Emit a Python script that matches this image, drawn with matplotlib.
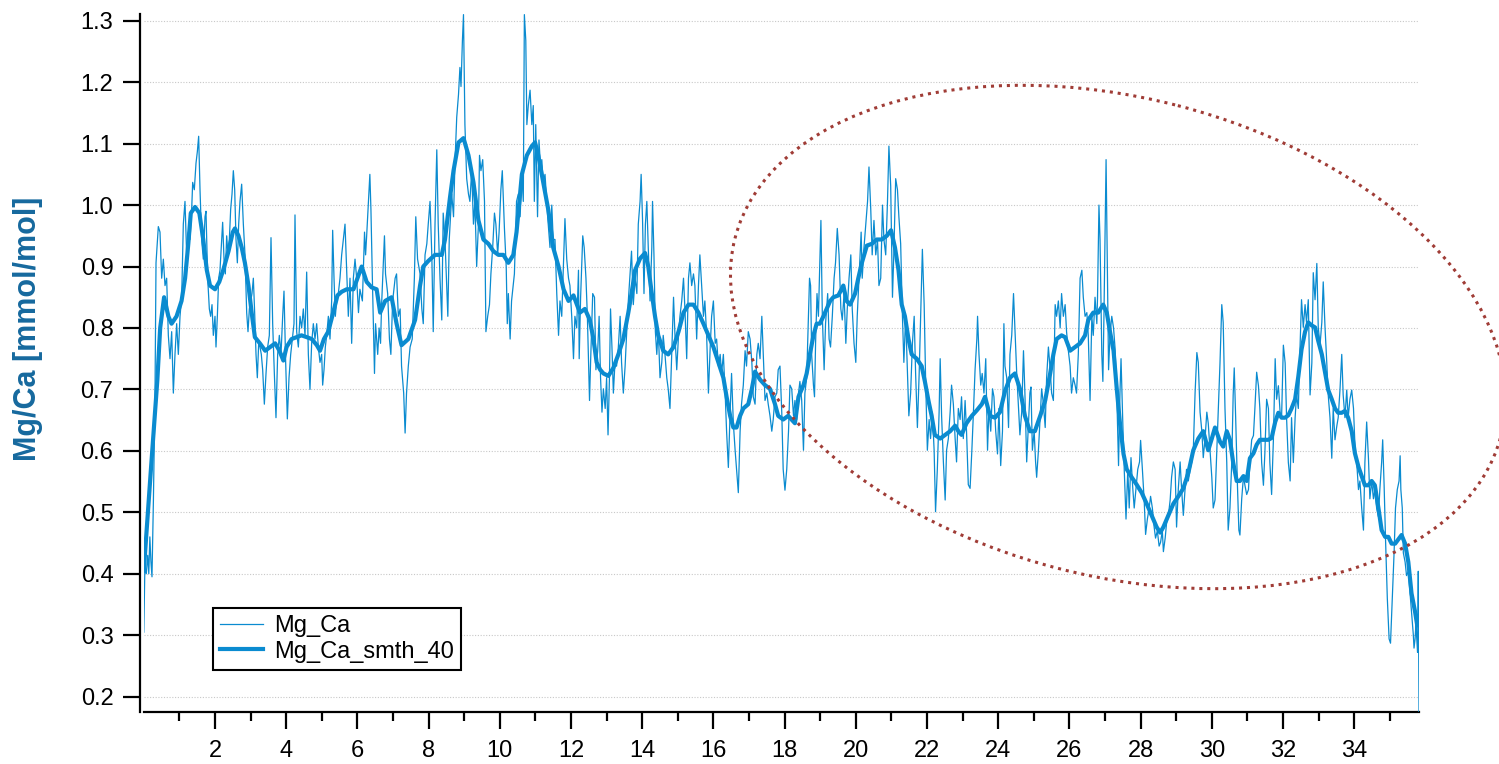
import matplotlib
matplotlib.use("Agg")
import matplotlib.pyplot as plt
from matplotlib.patches import Ellipse
from matplotlib.ticker import FixedLocator, FormatStrFormatter

plt.rcParams['font.family'] = ['Liberation Sans', 'DejaVu Sans']

# Mg/Ca profile (distance along the record vs. ratio in mmol/mol)
raw_x = [
    0.00, 0.03, 0.07, 0.11, 0.14, 0.17, 0.20, 0.23, 0.27, 0.315, 0.343, 0.408, 0.455, 0.502, 0.549, 0.596,
    0.642, 0.689, 0.736, 0.783, 0.830, 0.876, 0.923, 0.970, 1.017, 1.064, 1.110, 1.157, 1.204, 1.251, 1.298,
    1.345, 1.373, 1.419, 1.466, 1.504, 1.541, 1.579, 1.625, 1.672, 1.719, 1.747, 1.794, 1.841, 1.878, 1.916,
    1.953, 2.000, 2.028, 2.066, 2.103, 2.140, 2.187, 2.215, 2.253, 2.290, 2.328, 2.365, 2.403, 2.440, 2.478,
    2.515, 2.553, 2.590, 2.628, 2.665, 2.702, 2.749, 2.796, 2.843, 2.890, 2.927, 2.965, 3.002, 3.039, 3.077,
    3.114, 3.152, 3.189, 3.227, 3.264, 3.301, 3.339, 3.386, 3.433, 3.479, 3.526, 3.573, 3.620, 3.667, 3.713,
    3.760, 3.807, 3.854, 3.901, 3.938, 3.985, 4.032, 4.079, 4.126, 4.172, 4.219, 4.247, 4.294, 4.341, 4.388,
    4.434, 4.481, 4.528, 4.575, 4.622, 4.668, 4.715, 4.762, 4.809, 4.856, 4.903, 4.949, 4.996, 5.024, 5.062,
    5.099, 5.137, 5.184, 5.230, 5.277, 5.305, 5.343, 5.380, 5.417, 5.464, 5.511, 5.558, 5.605, 5.652, 5.698,
    5.745, 5.792, 5.839, 5.886, 5.933, 5.979,
    6.03, 6.07, 6.14, 6.20, 6.23, 6.26, 6.35, 6.38, 6.42, 6.48, 6.51, 6.57, 6.61, 6.65, 6.68, 6.76, 6.79,
    6.85, 6.90, 6.94, 6.99, 7.06, 7.10, 7.15, 7.20, 7.24, 7.30, 7.34, 7.38, 7.43, 7.48, 7.54, 7.60, 7.64,
    7.69, 7.76, 7.81, 7.85, 7.90, 7.95, 7.99, 8.04, 8.09, 8.13, 8.18, 8.23, 8.27, 8.32, 8.37, 8.41, 8.46,
    8.54, 8.58, 8.65, 8.70, 8.74, 8.79, 8.84, 8.88, 8.91, 8.95, 8.98, 9.02, 9.07, 9.12, 9.16, 9.21, 9.26,
    9.30, 9.35, 9.40, 9.43, 9.47, 9.52, 9.57, 9.61, 9.66, 9.71, 9.75, 9.80, 9.85, 9.89, 9.94, 9.98, 10.03,
    10.07, 10.13, 10.18, 10.21, 10.24, 10.29, 10.33, 10.41, 10.47, 10.52, 10.57, 10.62, 10.66, 10.69, 10.73,
    10.76, 10.80, 10.85, 10.90, 10.94, 10.97, 11.01, 11.06, 11.10, 11.15, 11.18, 11.22, 11.27, 11.32, 11.36,
    11.41, 11.46, 11.50, 11.55, 11.60, 11.65, 11.69, 11.74, 11.79, 11.83, 11.88, 11.93, 11.97, 12.02, 12.07,
    12.11, 12.16, 12.21, 12.23, 12.27, 12.33, 12.37, 12.42, 12.46, 12.52, 12.55, 12.61, 12.66, 12.70, 12.75,
    12.79, 12.83, 12.87, 12.91, 12.96, 13.00, 13.04, 13.08, 13.11, 13.15, 13.19, 13.23, 13.28, 13.33, 13.38,
    13.42, 13.47, 13.52, 13.56, 13.61, 13.66, 13.70, 13.75, 13.80, 13.85, 13.89, 13.94, 13.97, 14.01, 14.05,
    14.09, 14.13, 14.17, 14.22, 14.27, 14.29, 14.33, 14.37, 14.41, 14.45, 14.50, 14.55, 14.59, 14.64, 14.69,
    14.73, 14.78, 14.83, 14.88, 14.92, 14.97, 15.02, 15.06, 15.11, 15.16, 15.20, 15.25, 15.30, 15.34, 15.39,
    15.44, 15.48, 15.53, 15.58, 15.62, 15.67, 15.72, 15.76, 15.81, 15.86, 15.91, 15.95, 16.00, 16.05, 16.09,
    16.14, 16.19, 16.23, 16.28, 16.33, 16.37, 16.42, 16.47, 16.51, 16.56, 16.61, 16.65, 16.70, 16.75, 16.79,
    16.84, 16.89, 16.93, 16.98, 17.03, 17.08, 17.12, 17.17, 17.22, 17.26, 17.31, 17.36, 17.40, 17.45, 17.50,
    17.54, 17.59, 17.64, 17.68, 17.73, 17.78, 17.82, 17.87, 17.92, 17.96, 18.01, 18.06, 18.11,
    18.15, 18.20, 18.25, 18.29, 18.34, 18.39, 18.43, 18.48, 18.53, 18.57, 18.62, 18.67, 18.70, 18.73, 18.76,
    18.81, 18.84, 18.87, 18.91, 18.95, 18.99, 19.02, 19.06, 19.11, 19.15, 19.21, 19.25, 19.29, 19.34, 19.39,
    19.43, 19.48, 19.53, 19.58, 19.62, 19.67, 19.72, 19.76, 19.81, 19.86, 19.90, 19.95, 20.00, 20.04, 20.09,
    20.15, 20.18, 20.23, 20.28, 20.33, 20.37, 20.42, 20.46, 20.51, 20.56, 20.61, 20.65, 20.70, 20.75, 20.79,
    20.84, 20.89, 20.93, 20.98, 21.03, 21.07, 21.12, 21.17, 21.21, 21.26, 21.31, 21.35, 21.40, 21.45, 21.49,
    21.54, 21.59, 21.64, 21.68, 21.73, 21.78, 21.82, 21.87, 21.92, 21.96, 22.01, 22.06, 22.10, 22.15, 22.20,
    22.24, 22.29, 22.34, 22.37, 22.41, 22.46, 22.51, 22.55, 22.60, 22.65, 22.69, 22.74, 22.79, 22.83, 22.88,
    22.93, 22.97, 23.02, 23.07, 23.11, 23.16, 23.21, 23.26, 23.30, 23.35, 23.40, 23.42, 23.46, 23.51, 23.55,
    23.60, 23.65, 23.70, 23.74, 23.79, 23.84, 23.88, 23.93, 23.98, 24.02, 24.07, 24.12, 24.16,
    24.19, 24.24, 24.29, 24.33, 24.38, 24.43, 24.47, 24.52, 24.57, 24.61, 24.66, 24.71, 24.75, 24.80, 24.85,
    24.89, 24.92, 24.96, 25.01, 25.05, 25.08, 25.13, 25.18, 25.22, 25.27, 25.32, 25.36, 25.41, 25.46, 25.50,
    25.55, 25.60, 25.64, 25.69, 25.74, 25.78, 25.83, 25.88, 25.92, 25.97, 26.02, 26.06, 26.11, 26.16, 26.20,
    26.25, 26.30, 26.35, 26.39, 26.44, 26.49, 26.53, 26.58, 26.63, 26.67, 26.72, 26.77, 26.79, 26.83, 26.86,
    26.91, 26.94, 26.97, 27.01, 27.03, 27.07, 27.10, 27.14, 27.19, 27.24, 27.28, 27.33, 27.38, 27.42, 27.45,
    27.50, 27.54, 27.59, 27.64, 27.68, 27.73, 27.78, 27.82, 27.87, 27.92, 27.97, 28.00, 28.05, 28.10, 28.14,
    28.19, 28.24, 28.28, 28.33, 28.38, 28.42, 28.47, 28.52, 28.56, 28.61, 28.64, 28.69, 28.73, 28.78, 28.83,
    28.87, 28.92, 28.97, 29.01, 29.06, 29.11, 29.15, 29.20, 29.25, 29.29, 29.34, 29.39, 29.44, 29.48, 29.53,
    29.58, 29.62, 29.67, 29.72, 29.76, 29.81, 29.86, 29.90, 29.95, 30.00, 30.04, 30.09, 30.14, 30.18,
    30.23, 30.28, 30.32, 30.37, 30.42, 30.46, 30.51, 30.56, 30.60, 30.63, 30.67, 30.72, 30.76, 30.79, 30.84,
    30.89, 30.93, 30.98, 31.03, 31.07, 31.12, 31.17, 31.21, 31.26, 31.31, 31.35, 31.40, 31.45, 31.49, 31.54,
    31.59, 31.63, 31.68, 31.73, 31.78, 31.82, 31.87, 31.92, 31.96, 32.01, 32.06, 32.10, 32.15, 32.20, 32.24,
    32.29, 32.34, 32.38, 32.43, 32.48, 32.52, 32.57, 32.62, 32.66, 32.71, 32.76, 32.81, 32.85, 32.90, 32.95,
    32.99, 33.04, 33.09, 33.13, 33.18, 33.23, 33.27, 33.32, 33.37, 33.41, 33.46, 33.51, 33.55, 33.60, 33.65,
    33.69, 33.74, 33.79, 33.83, 33.88, 33.93, 33.98, 34.02, 34.07, 34.12, 34.16, 34.21, 34.26, 34.30, 34.35,
    34.40, 34.44, 34.49, 34.54, 34.58, 34.63, 34.68, 34.72, 34.77, 34.80, 34.84, 34.88, 34.93, 34.98, 35.02,
    35.07, 35.12, 35.16, 35.21, 35.26, 35.29, 35.31, 35.35, 35.38, 35.43, 35.47, 35.52, 35.57, 35.61, 35.66,
    35.68, 35.71, 35.74, 35.75, 35.78, 35.80, 35.82,
]
raw_y = [
    0.305, 0.41, 0.40, 0.43, 0.40, 0.46, 0.42, 0.395, 0.52, 0.694, 0.906, 0.965, 0.956, 0.881, 0.912, 0.869,
    0.881, 0.788, 0.750, 0.794, 0.694, 0.757, 0.807, 0.757, 0.819, 0.850, 0.969, 1.006, 0.919, 0.956, 0.944,
    0.993, 1.037, 1.025, 1.068, 1.087, 1.112, 1.025, 0.944, 0.912, 0.981, 0.990, 0.881, 0.831, 0.819, 0.838,
    0.788, 0.819, 0.769, 0.819, 0.881, 0.894, 0.944, 0.972, 0.912, 0.888, 0.950, 0.919, 0.944, 0.993, 1.018,
    1.056, 1.025, 0.944, 0.906, 0.969, 1.006, 1.034, 0.969, 0.919, 0.825, 0.794, 0.831, 0.844, 0.856, 0.881,
    0.825, 0.757, 0.719, 0.775, 0.769, 0.757, 0.732, 0.676, 0.726, 0.769, 0.788, 0.947, 0.807, 0.726, 0.654,
    0.757, 0.788, 0.757, 0.819, 0.860, 0.744, 0.652, 0.719, 0.757, 0.782, 0.807, 0.984, 0.794, 0.769, 0.819,
    0.800, 0.831, 0.788, 0.891, 0.757, 0.700, 0.775, 0.807, 0.782, 0.807, 0.769, 0.744, 0.757, 0.707, 0.732,
    0.769, 0.788, 0.819, 0.782, 0.844, 0.959, 0.881, 0.819, 0.844, 0.856, 0.881, 0.919, 0.944, 0.969, 0.894,
    0.819, 0.881, 0.775, 0.881, 0.912, 0.881,
    0.825, 0.863, 0.844, 0.956, 0.919, 0.950, 1.050, 0.993, 0.881, 0.726, 0.807, 0.757, 0.800, 0.775, 0.838,
    0.950, 0.888, 0.856, 0.782, 0.757, 0.844, 0.881, 0.888, 0.819, 0.831, 0.738, 0.694, 0.629, 0.694, 0.738,
    0.769, 0.782, 0.881, 0.981, 0.912, 0.888, 0.831, 0.807, 0.919, 0.937, 0.969, 1.006, 0.919, 0.794, 0.969,
    1.090, 0.969, 0.881, 0.813, 0.987, 0.944, 0.819, 0.944, 1.018, 0.981, 1.068, 1.143, 1.180, 1.224, 1.193,
    1.268, 1.310, 1.131, 1.043, 1.018, 1.006, 1.056, 0.969, 1.006, 0.900, 0.969, 1.081, 1.056, 1.074, 1.006,
    0.794, 0.819, 0.838, 0.888, 0.931, 0.987, 0.969, 0.919, 0.956, 1.025, 1.056, 0.962, 0.900, 0.807, 0.856,
    0.782, 0.844, 0.888, 1.006, 1.018, 0.981, 1.050, 1.006, 1.310, 1.268, 1.131, 1.162, 1.187, 1.131, 1.162,
    1.006, 1.131, 0.981, 1.106, 1.056, 1.074, 1.037, 1.050, 1.006, 0.969, 0.931, 1.000, 0.944, 0.944, 0.856,
    0.788, 0.844, 0.819, 0.906, 0.978, 0.912, 0.881, 0.869, 0.819, 0.750,
    0.819, 0.800, 0.894, 0.750, 0.850, 0.950, 0.931, 0.881, 0.819, 0.682, 0.744, 0.856, 0.850, 0.732, 0.763,
    0.819, 0.719, 0.663, 0.701, 0.669, 0.719, 0.626, 0.719, 0.831, 0.769, 0.694, 0.738, 0.738, 0.769, 0.819,
    0.744, 0.694, 0.738, 0.788, 0.844, 0.888, 0.925, 0.838, 0.881, 0.856, 0.969, 1.006, 1.050, 0.975, 0.856,
    0.969, 1.006, 0.931, 0.844, 0.931, 1.006, 0.919, 0.794, 0.757, 0.800, 0.719, 0.744, 0.788, 0.757, 0.719,
    0.701, 0.669, 0.757, 0.850, 0.788, 0.732, 0.788, 0.819, 0.844, 0.881, 0.831, 0.750, 0.881, 0.906, 0.869,
    0.888, 0.869, 0.782, 0.869, 0.919, 0.869, 0.819, 0.844, 0.788, 0.694, 0.769, 0.819, 0.844, 0.775, 0.782,
    0.738, 0.757, 0.726, 0.757, 0.694, 0.632, 0.573, 0.663, 0.726, 0.645, 0.601, 0.570, 0.532, 0.632, 0.676,
    0.707, 0.763, 0.738, 0.794, 0.782, 0.744, 0.688, 0.676, 0.757, 0.775, 0.750, 0.819, 0.757, 0.682, 0.694,
    0.676, 0.657, 0.632, 0.651, 0.688, 0.694, 0.732, 0.738, 0.663, 0.570, 0.536, 0.570, 0.632,
    0.707, 0.701, 0.657, 0.682, 0.651, 0.694, 0.713, 0.682, 0.601, 0.694, 0.719, 0.819, 0.881, 0.869, 0.757,
    0.707, 0.688, 0.775, 0.856, 0.819, 0.912, 0.975, 0.819, 0.732, 0.807, 0.856, 0.782, 0.769, 0.819, 0.881,
    0.906, 0.962, 0.919, 0.831, 0.813, 0.856, 0.775, 0.831, 0.881, 0.919, 0.831, 0.775, 0.744, 0.819, 0.881,
    0.956, 0.881, 0.931, 0.969, 1.006, 1.062, 0.993, 0.919, 0.975, 0.919, 0.944, 0.869, 0.881, 1.000, 0.944,
    0.919, 1.006, 1.096, 1.031, 0.850, 0.925, 1.043, 1.025, 0.981, 0.937, 0.819, 0.744, 0.819, 0.726, 0.657,
    0.694, 0.775, 0.819, 0.726, 0.638, 0.726, 0.819, 0.928, 0.838, 0.719, 0.601, 0.651, 0.620, 0.663, 0.601,
    0.501, 0.570, 0.663, 0.750, 0.657, 0.582, 0.520, 0.601, 0.620, 0.663, 0.707, 0.676, 0.620, 0.582, 0.669,
    0.651, 0.688, 0.620, 0.682, 0.632, 0.545, 0.539, 0.601, 0.657, 0.732, 0.782, 0.819, 0.757, 0.707, 0.726,
    0.694, 0.750, 0.601, 0.669, 0.632, 0.701, 0.688, 0.632, 0.595, 0.669, 0.576, 0.632, 0.807,
    0.738, 0.719, 0.638, 0.757, 0.788, 0.856, 0.800, 0.726, 0.669, 0.626, 0.663, 0.763, 0.694, 0.582, 0.645,
    0.694, 0.704, 0.601, 0.632, 0.582, 0.557, 0.601, 0.657, 0.701, 0.676, 0.638, 0.719, 0.769, 0.732, 0.694,
    0.682, 0.838, 0.819, 0.844, 0.800, 0.856, 0.819, 0.838, 0.794, 0.763, 0.738, 0.694, 0.719, 0.707, 0.694,
    0.757, 0.881, 0.894, 0.850, 0.819, 0.825, 0.788, 0.682, 0.819, 0.788, 0.850, 0.807, 0.850, 1.000, 0.944,
    0.757, 0.713, 0.819, 0.993, 1.074, 0.881, 0.732, 0.788, 0.819, 0.800, 0.769, 0.694, 0.576, 0.694, 0.750,
    0.645, 0.570, 0.489, 0.570, 0.507, 0.589, 0.539, 0.507, 0.539, 0.570, 0.582, 0.617, 0.570, 0.520, 0.464,
    0.489, 0.507, 0.526, 0.507, 0.476, 0.458, 0.470, 0.445, 0.451, 0.470, 0.436, 0.458, 0.483, 0.495, 0.520,
    0.557, 0.582, 0.570, 0.476, 0.539, 0.582, 0.539, 0.495, 0.539, 0.570, 0.551, 0.570, 0.582, 0.601, 0.694,
    0.760, 0.744, 0.663, 0.632, 0.589, 0.620, 0.663, 0.645, 0.601, 0.557, 0.507, 0.520, 0.601, 0.663,
    0.743, 0.838, 0.809, 0.669, 0.581, 0.471, 0.507, 0.581, 0.691, 0.735, 0.654, 0.544, 0.471, 0.463, 0.522,
    0.559, 0.544, 0.529, 0.537, 0.581, 0.618, 0.625, 0.669, 0.728, 0.706, 0.669, 0.581, 0.544, 0.596, 0.684,
    0.669, 0.581, 0.529, 0.618, 0.750, 0.684, 0.706, 0.662, 0.654, 0.772, 0.743, 0.654, 0.581, 0.551, 0.654,
    0.581, 0.654, 0.691, 0.669, 0.772, 0.846, 0.801, 0.838, 0.809, 0.846, 0.691, 0.743, 0.890, 0.846, 0.905,
    0.801, 0.772, 0.809, 0.875, 0.801, 0.743, 0.691, 0.654, 0.588, 0.669, 0.618, 0.640, 0.654, 0.699, 0.757,
    0.691, 0.654, 0.699, 0.654, 0.684, 0.699, 0.669, 0.610, 0.581, 0.537, 0.551, 0.507, 0.471, 0.581, 0.647,
    0.588, 0.522, 0.551, 0.522, 0.537, 0.507, 0.493, 0.537, 0.581, 0.618, 0.544, 0.456, 0.360, 0.294, 0.287,
    0.360, 0.434, 0.507, 0.537, 0.551, 0.592, 0.537, 0.507, 0.434, 0.419, 0.397, 0.404, 0.368, 0.338, 0.301,
    0.279, 0.294, 0.324, 0.301, 0.272, 0.404, 0.176,
]

# 40-point smoothed curve
smooth_x = [
    0.00, 0.20, 0.38, 0.46, 0.57, 0.69, 0.78, 0.92, 1.06, 1.16, 1.25, 1.32, 1.44, 1.56, 1.67, 1.77, 1.86,
    2.00, 2.12, 2.23, 2.38, 2.50, 2.56, 2.66, 2.75, 2.84, 2.94, 3.03, 3.12, 3.26, 3.41, 3.55, 3.69, 3.81,
    3.92, 4.01, 4.15, 4.29, 4.43, 4.58, 4.72, 4.86, 4.95, 5.06, 5.18, 5.32, 5.44, 5.56, 5.70, 5.89, 6.12,
    6.26, 6.40, 6.54, 6.64, 6.78, 6.96, 7.10, 7.24, 7.43, 7.62, 7.76, 7.85, 7.99, 8.18, 8.37, 8.46, 8.60,
    8.70, 8.84, 8.98, 9.12, 9.26, 9.40, 9.54, 9.68, 9.82, 9.96, 10.10, 10.24, 10.38, 10.47, 10.62, 10.76,
    10.90, 10.99, 11.08, 11.22, 11.36, 11.50, 11.65, 11.79, 11.93, 12.07, 12.25, 12.39, 12.53, 12.63, 12.72,
    12.82, 12.91, 13.05, 13.19, 13.33, 13.47, 13.61, 13.70, 13.80, 13.94, 14.08, 14.17, 14.27, 14.36, 14.45,
    14.59, 14.73, 14.88, 15.02, 15.16, 15.30, 15.44, 15.58, 15.72, 15.86, 16.00, 16.14, 16.28, 16.37, 16.47,
    16.56, 16.65, 16.75, 16.84, 16.98, 17.08, 17.17, 17.31, 17.45, 17.59, 17.73, 17.82, 17.96, 18.10, 18.29,
    18.39, 18.53, 18.62, 18.71, 18.81, 18.90, 18.99, 19.09, 19.18, 19.28, 19.37, 19.51, 19.65, 19.74, 19.84,
    19.98, 20.07, 20.17, 20.31, 20.45, 20.59, 20.73, 20.87, 20.99, 21.10, 21.20, 21.29, 21.38, 21.48, 21.57,
    21.71, 21.85, 21.94, 22.04, 22.13, 22.22, 22.37, 22.51, 22.65, 22.79, 22.88, 22.97, 23.11, 23.26, 23.40,
    23.54, 23.63, 23.77, 23.91, 24.05, 24.19, 24.33, 24.47, 24.61, 24.75, 24.89, 25.03, 25.18, 25.32, 25.46,
    25.55, 25.64, 25.78, 25.88, 26.02, 26.16, 26.30, 26.44, 26.53, 26.67, 26.81, 26.95, 27.05, 27.14, 27.24,
    27.33, 27.42, 27.52, 27.61, 27.75, 27.89, 28.03, 28.17, 28.31, 28.45, 28.55, 28.64, 28.78, 28.92, 29.06,
    29.20, 29.34, 29.48, 29.62, 29.76, 29.90, 30.00, 30.09, 30.23, 30.32, 30.42, 30.51, 30.60, 30.70, 30.79,
    30.89, 30.98, 31.07, 31.17, 31.26, 31.35, 31.45, 31.59, 31.68, 31.78, 31.87, 31.96, 32.06, 32.15, 32.24,
    32.34, 32.43, 32.52, 32.62, 32.71, 32.81, 32.90, 32.99, 33.09, 33.18, 33.27, 33.37, 33.46, 33.55, 33.65,
    33.74, 33.83, 33.93, 34.02, 34.12, 34.21, 34.30, 34.40, 34.49, 34.58, 34.68, 34.77, 34.87, 34.96, 35.05,
    35.15, 35.24, 35.33, 35.43, 35.52, 35.61, 35.71, 35.77, 35.82,
]
smooth_y = [
    0.405, 0.570, 0.715, 0.800, 0.850, 0.819, 0.807, 0.819, 0.844, 0.881, 0.937, 0.987, 0.997, 0.987, 0.944,
    0.894, 0.869, 0.863, 0.875, 0.894, 0.925, 0.956, 0.962, 0.950, 0.931, 0.906, 0.869, 0.825, 0.785, 0.775,
    0.763, 0.769, 0.775, 0.763, 0.747, 0.769, 0.782, 0.785, 0.788, 0.785, 0.782, 0.772, 0.763, 0.782, 0.794,
    0.825, 0.853, 0.859, 0.863, 0.863, 0.900, 0.875, 0.866, 0.863, 0.825, 0.844, 0.850, 0.807, 0.772, 0.782,
    0.813, 0.869, 0.900, 0.909, 0.919, 0.919, 0.944, 1.012, 1.056, 1.102, 1.109, 1.081, 1.037, 0.975, 0.944,
    0.937, 0.925, 0.919, 0.919, 0.906, 0.919, 0.956, 1.050, 1.081, 1.096, 1.102, 1.081, 1.037, 0.993, 0.931,
    0.900, 0.863, 0.844, 0.853, 0.825, 0.831, 0.813, 0.782, 0.744, 0.732, 0.726, 0.722, 0.735, 0.757, 0.782,
    0.825, 0.856, 0.894, 0.913, 0.922, 0.900, 0.856, 0.819, 0.788, 0.763, 0.757, 0.769, 0.794, 0.825, 0.838,
    0.838, 0.825, 0.807, 0.788, 0.769, 0.744, 0.719, 0.688, 0.657, 0.638, 0.638, 0.657, 0.669, 0.676, 0.701,
    0.729, 0.716, 0.707, 0.701, 0.676, 0.657, 0.651, 0.657, 0.645, 0.688, 0.707, 0.726, 0.757, 0.788, 0.807,
    0.807, 0.819, 0.831, 0.844, 0.850, 0.853, 0.869, 0.844, 0.838, 0.856, 0.881, 0.906, 0.934, 0.937, 0.944,
    0.944, 0.950, 0.959, 0.931, 0.894, 0.838, 0.819, 0.782, 0.757, 0.750, 0.738, 0.713, 0.682, 0.657, 0.626,
    0.620, 0.626, 0.632, 0.641, 0.632, 0.626, 0.645, 0.657, 0.666, 0.676, 0.688, 0.657, 0.654, 0.663, 0.697,
    0.719, 0.726, 0.701, 0.657, 0.632, 0.632, 0.657, 0.682, 0.726, 0.757, 0.782, 0.788, 0.785, 0.763, 0.769,
    0.775, 0.788, 0.813, 0.825, 0.825, 0.838, 0.825, 0.794, 0.763, 0.701, 0.645, 0.595, 0.570, 0.557, 0.545,
    0.532, 0.514, 0.495, 0.476, 0.467, 0.476, 0.495, 0.514, 0.526, 0.539, 0.564, 0.601, 0.620, 0.632, 0.601,
    0.620, 0.638, 0.615, 0.607, 0.632, 0.618, 0.581, 0.551, 0.551, 0.559, 0.551, 0.588, 0.596, 0.610, 0.618,
    0.618, 0.618, 0.621, 0.647, 0.662, 0.654, 0.654, 0.658, 0.669, 0.684, 0.721, 0.765, 0.794, 0.809, 0.804,
    0.801, 0.779, 0.757, 0.728, 0.699, 0.684, 0.669, 0.662, 0.662, 0.665, 0.654, 0.632, 0.596, 0.574, 0.559,
    0.544, 0.544, 0.551, 0.544, 0.507, 0.471, 0.460, 0.460, 0.449, 0.449, 0.456, 0.463, 0.449, 0.419, 0.368,
    0.338, 0.316, 0.331,
]

y_ticks = [0.2, 0.3, 0.4, 0.5, 0.6, 0.7, 0.8, 0.9, 1.0, 1.1, 1.2, 1.3]
x_major = list(range(2, 35, 2))
x_minor = list(range(1, 36, 2))

line_blue = '#0a8bd0'
W, H = 1499, 764

fig = plt.figure(figsize=(W / 100, H / 100), dpi=100)
ax = fig.add_axes([143.8 / W, (H - 712) / H, (1419 - 143.8) / W, (712 - 14) / H])

ax.plot(raw_x, raw_y, color=line_blue, lw=0.9, label='Mg_Ca', zorder=3)
ax.plot(smooth_x, smooth_y, color=line_blue, lw=3.0, label='Mg_Ca_smth_40', zorder=4,
        solid_joinstyle='round')

ax.set_xlim(0, 35.82)
ax.set_ylim(0.175, 1.311)

for side in ('top', 'right'):
    ax.spines[side].set_visible(False)
ax.spines['left'].set_linewidth(1.6)
ax.spines['bottom'].set_linewidth(1.6)
ax.spines['left'].set_position(('outward', 2.9))

ax.yaxis.set_major_locator(FixedLocator(y_ticks))
ax.yaxis.set_major_formatter(FormatStrFormatter('%.1f'))
ax.xaxis.set_major_locator(FixedLocator(x_major))
ax.xaxis.set_minor_locator(FixedLocator(x_minor))
ax.xaxis.set_major_formatter(FormatStrFormatter('%d'))

ax.tick_params(axis='y', direction='out', length=12, width=1.6, labelsize=17, pad=7)
ax.tick_params(axis='x', which='major', direction='out', length=12, width=1.6, labelsize=17, pad=8)
ax.tick_params(axis='x', which='minor', direction='out', length=6.5, width=1.6)

ax.set_axisbelow(True)
ax.yaxis.grid(True, color='#c8c8c8', linestyle=(0, (1, 1.5)), linewidth=0.8)

ax.set_ylabel('Mg/Ca [mmol/mol]', fontsize=22, fontweight='bold', color='#16699e')
ax.yaxis.set_label_coords(-0.079, 0.549)

leg = ax.legend(loc='upper left', bbox_to_anchor=(213 / W, 1 - 608 / H), bbox_transform=fig.transFigure,
                frameon=True, fancybox=False, edgecolor='black', framealpha=1, borderaxespad=0,
                fontsize=17, handlelength=1.8, handletextpad=0.5, labelspacing=0.15, borderpad=0.3)
leg.get_frame().set_linewidth(1.5)

# dotted ring around the lower-amplitude part of the record, drawn in figure pixels
ov = fig.add_axes([0, 0, 1, 1], facecolor='none')
ov.set_xlim(0, W)
ov.set_ylim(H, 0)
ov.axis('off')
ov.add_patch(Ellipse((1118, 337), 791, 478, angle=14.5, fill=False, edgecolor='#a03c36',
                     lw=2.2, linestyle=(0, (1, 1.6))))

fig.savefig('out.png', dpi=100)
